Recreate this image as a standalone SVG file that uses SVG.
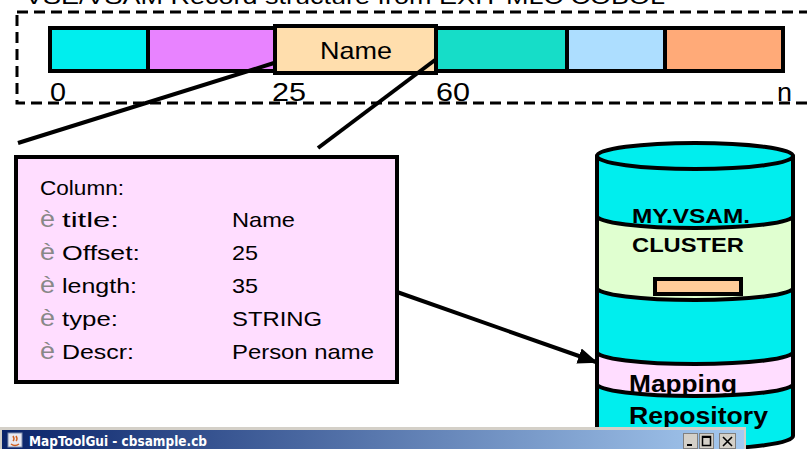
<svg xmlns="http://www.w3.org/2000/svg" width="807" height="449" viewBox="0 0 807 449">
<defs>
<style>
.t{font-family:"Liberation Sans",Arial,sans-serif;fill:#000}
.cell{stroke:#000;stroke-width:4}
.cyl{stroke:#000;stroke-width:4;stroke-linejoin:round}
.b{font-weight:bold}
.bul{fill:#888}
.conn{stroke:#000;stroke-width:4;fill:none}
.f{font-size:21px}
</style>
<linearGradient id="tb" x1="0" y1="0" x2="1" y2="0">
<stop offset="0" stop-color="#0A246A"/>
<stop offset="1" stop-color="#A6CAF0"/>
</linearGradient>
<marker id="ah2" markerWidth="20" markerHeight="16" refX="18" refY="8" orient="auto" markerUnits="userSpaceOnUse" viewBox="0 0 20 16">
<path d="M0,0 L20,8 L0,16 Z" fill="#000"/>
</marker>
</defs>
<rect width="807" height="449" fill="#fff"/>

<text class="t" x="25" y="4" font-size="22" textLength="640" lengthAdjust="spacingAndGlyphs">VSE/VSAM Record structure from EXIT MLC COBOL</text>

<g id="record">
<rect x="17" y="12" width="800" height="91" fill="none" stroke="#000" stroke-width="3" stroke-dasharray="11 6"/>
<rect class="cell" x="50" y="28" width="98" height="43" fill="#00EEEE"/>
<rect class="cell" x="148" y="28" width="127" height="43" fill="#E883FF"/>
<rect class="cell" x="436" y="28" width="131" height="43" fill="#16DDC8"/>
<rect class="cell" x="567" y="28" width="98" height="43" fill="#ADDEFF"/>
<rect class="cell" x="665" y="28" width="118" height="43" fill="#FFAA78"/>
<text class="t" x="50" y="101" font-size="26" textLength="16" lengthAdjust="spacingAndGlyphs">0</text>
<text class="t" x="272" y="101" font-size="26" textLength="34" lengthAdjust="spacingAndGlyphs">25</text>
<text class="t" x="436" y="101" font-size="26" textLength="34" lengthAdjust="spacingAndGlyphs">60</text>
<text class="t" x="777" y="101" font-size="26" textLength="15" lengthAdjust="spacingAndGlyphs">n</text>
</g>

<g id="name">
<rect class="cell" x="275" y="26" width="161" height="47" fill="#FFDEAD"/>
<text class="t" x="320" y="59" font-size="24" textLength="72" lengthAdjust="spacingAndGlyphs">Name</text>
</g>

<g id="connectors">
<line class="conn" x1="274" y1="63" x2="18" y2="143"/>
<line class="conn" x1="435" y1="60" x2="318" y2="148"/>
<line class="conn" x1="397" y1="292" x2="596" y2="362" marker-end="url(#ah2)"/>
</g>

<g id="column">
<rect x="16" y="157" width="381" height="225" fill="#FFDDFF" stroke="#000" stroke-width="4"/>
<text class="t f" x="40" y="195" textLength="84" lengthAdjust="spacingAndGlyphs">Column:</text>
<text class="t bul" x="40" y="227" font-size="24" textLength="15" lengthAdjust="spacingAndGlyphs">è</text><text class="t f" x="62" y="227" textLength="57" lengthAdjust="spacingAndGlyphs">title:</text><text class="t f" x="232" y="227" textLength="63" lengthAdjust="spacingAndGlyphs">Name</text>
<text class="t bul" x="40" y="260" font-size="24" textLength="15" lengthAdjust="spacingAndGlyphs">è</text><text class="t f" x="62" y="260" textLength="78" lengthAdjust="spacingAndGlyphs">Offset:</text><text class="t f" x="232" y="260" textLength="26" lengthAdjust="spacingAndGlyphs">25</text>
<text class="t bul" x="40" y="293" font-size="24" textLength="15" lengthAdjust="spacingAndGlyphs">è</text><text class="t f" x="62" y="293" textLength="75" lengthAdjust="spacingAndGlyphs">length:</text><text class="t f" x="232" y="293" textLength="26" lengthAdjust="spacingAndGlyphs">35</text>
<text class="t bul" x="40" y="326" font-size="24" textLength="15" lengthAdjust="spacingAndGlyphs">è</text><text class="t f" x="62" y="326" textLength="56" lengthAdjust="spacingAndGlyphs">type:</text><text class="t f" x="232" y="326" textLength="90" lengthAdjust="spacingAndGlyphs">STRING</text>
<text class="t bul" x="40" y="359" font-size="24" textLength="15" lengthAdjust="spacingAndGlyphs">è</text><text class="t f" x="62" y="359" textLength="72" lengthAdjust="spacingAndGlyphs">Descr:</text><text class="t f" x="232" y="359" textLength="142" lengthAdjust="spacingAndGlyphs">Person name</text>
</g>

<g id="cylinder">
<path class="cyl" d="M597,156 L597,436 A98,13 0 0 0 793,436 L793,156 Z" fill="#00EEEE"/>
<path class="cyl" d="M597,216 A98,12 0 0 0 793,216 L793,288 A98,12 0 0 1 597,288 Z" fill="#E0FFD0"/>
<path class="cyl" d="M597,352 A98,12 0 0 0 793,352 L793,384 A98,12 0 0 1 597,384 Z" fill="#FFDDFF"/>
<ellipse class="cyl" cx="695" cy="156" rx="98" ry="13" fill="#00EEEE"/>
<rect x="655" y="279" width="86" height="15" fill="#FFCC99" stroke="#000" stroke-width="4"/>
<text class="t b" x="632" y="223" font-size="20" textLength="118" lengthAdjust="spacingAndGlyphs">MY.VSAM.</text>
<text class="t b" x="632" y="252" font-size="20" textLength="112" lengthAdjust="spacingAndGlyphs">CLUSTER</text>
<text class="t b" x="629" y="392" font-size="23" textLength="108" lengthAdjust="spacingAndGlyphs">Mapping</text>
<text class="t b" x="629" y="424" font-size="23" textLength="139" lengthAdjust="spacingAndGlyphs">Repository</text>
</g>

<g id="window">
<rect x="0" y="427" width="746" height="22" fill="#D4D0C8"/>
<rect x="2" y="430" width="742" height="19" fill="url(#tb)"/>
<rect x="8" y="433" width="14" height="14" fill="#E8E8F0" stroke="#8090B0" stroke-width="1"/>
<path d="M11,444 Q15,447 19,444 M13,441 q2,-2 0,-5 M16,441 q2,-2 0,-5" stroke="#D06020" stroke-width="1.5" fill="none"/>
<text x="29" y="446" font-family="'DejaVu Sans',Tahoma,sans-serif" font-weight="bold" font-size="14" fill="#fff" textLength="178" lengthAdjust="spacingAndGlyphs">MapToolGui - cbsample.cb</text>
<g fill="#D4D0C8" stroke="#808080" stroke-width="1">
<rect x="683.5" y="433.5" width="14" height="15"/>
<rect x="699.5" y="433.5" width="14" height="15"/>
<rect x="719.5" y="433.5" width="16" height="15"/>
</g>
<rect x="687" y="444" width="5" height="2" fill="#000"/>
<rect x="702.5" y="436.5" width="8" height="9" fill="none" stroke="#000" stroke-width="1.5"/>
<rect x="702" y="436" width="9" height="2" fill="#000"/>
<path d="M723,437 L732,446 M732,437 L723,446" stroke="#000" stroke-width="1.6"/>
</g>
</svg>
